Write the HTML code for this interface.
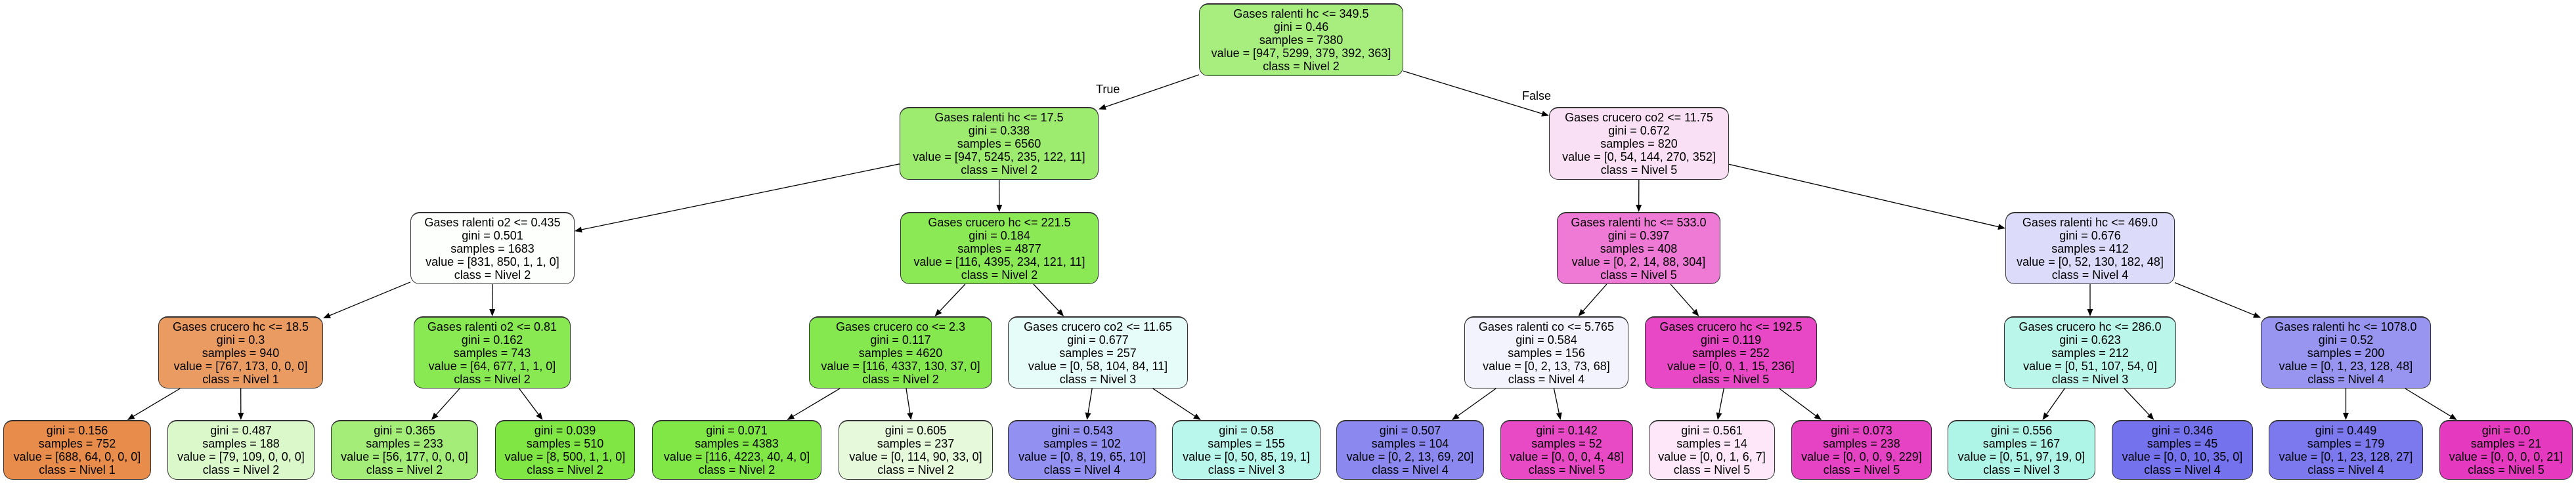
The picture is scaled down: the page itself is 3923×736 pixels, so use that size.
<!DOCTYPE html>
<html><head><meta charset="utf-8">
<style>
html,body{margin:0;padding:0;background:#fff;}
body{width:3923px;height:736px;position:relative;overflow:hidden;font-family:"Liberation Sans",Arial,sans-serif;}
.n{position:absolute;box-sizing:border-box;border:1.5px solid #333;border-top-width:2.5px;border-radius:14px;display:flex;align-items:center;justify-content:center;text-align:center;font-size:18px;line-height:20px;color:#000;white-space:nowrap;}
.lbl{position:absolute;font-size:18px;line-height:20px;}
svg{position:absolute;left:0;top:0;}
</style></head><body>
<svg id="s" width="3923" height="736"></svg>

<div class="n" id="R" style="left:1826px;top:5px;width:311px;height:111px;background:#a8ee7f">Gases ralenti hc &lt;= 349.5<br>gini = 0.46<br>samples = 7380<br>value = [947, 5299, 379, 392, 363]<br>class = Nivel 2</div>

<div class="lbl" style="left:1669px;top:126px">True</div>
<div class="lbl" style="left:2318px;top:136px">False</div>

<div class="n" id="A" style="left:1370px;top:163px;width:303px;height:111px;background:#9eec6f">Gases ralenti hc &lt;= 17.5<br>gini = 0.338<br>samples = 6560<br>value = [947, 5245, 235, 122, 11]<br>class = Nivel 2</div>
<div class="n" id="B" style="left:2359px;top:163px;width:274px;height:111px;background:#fae0f5">Gases crucero co2 &lt;= 11.75<br>gini = 0.672<br>samples = 820<br>value = [0, 54, 144, 270, 352]<br>class = Nivel 5</div>

<div class="n" id="C" style="left:625px;top:323px;width:250px;height:110px;background:#fdfffc">Gases ralenti o2 &lt;= 0.435<br>gini = 0.501<br>samples = 1683<br>value = [831, 850, 1, 1, 0]<br>class = Nivel 2</div>
<div class="n" id="D" style="left:1371px;top:323px;width:302px;height:110px;background:#8ae954">Gases crucero hc &lt;= 221.5<br>gini = 0.184<br>samples = 4877<br>value = [116, 4395, 234, 121, 11]<br>class = Nivel 2</div>
<div class="n" id="E" style="left:2371px;top:323px;width:249px;height:110px;background:#ee7ad5">Gases ralenti hc &lt;= 533.0<br>gini = 0.397<br>samples = 408<br>value = [0, 2, 14, 88, 304]<br>class = Nivel 5</div>
<div class="n" id="F" style="left:3054px;top:323px;width:258px;height:110px;background:#dcdbfa">Gases ralenti hc &lt;= 469.0<br>gini = 0.676<br>samples = 412<br>value = [0, 52, 130, 182, 48]<br>class = Nivel 4</div>

<div class="n" id="G" style="left:241px;top:482px;width:251px;height:110px;background:#ea9b62">Gases crucero hc &lt;= 18.5<br>gini = 0.3<br>samples = 940<br>value = [767, 173, 0, 0, 0]<br>class = Nivel 1</div>
<div class="n" id="H" style="left:630px;top:482px;width:239px;height:110px;background:#89e953">Gases ralenti o2 &lt;= 0.81<br>gini = 0.162<br>samples = 743<br>value = [64, 677, 1, 1, 0]<br>class = Nivel 2</div>
<div class="n" id="I" style="left:1232px;top:482px;width:279px;height:110px;background:#86e84f">Gases crucero co &lt;= 2.3<br>gini = 0.117<br>samples = 4620<br>value = [116, 4337, 130, 37, 0]<br>class = Nivel 2</div>
<div class="n" id="J" style="left:1535px;top:482px;width:274px;height:110px;background:#e6fcf8">Gases crucero co2 &lt;= 11.65<br>gini = 0.677<br>samples = 257<br>value = [0, 58, 104, 84, 11]<br>class = Nivel 3</div>
<div class="n" id="K" style="left:2230px;top:482px;width:250px;height:110px;background:#f3f3fd">Gases ralenti co &lt;= 5.765<br>gini = 0.584<br>samples = 156<br>value = [0, 2, 13, 73, 68]<br>class = Nivel 4</div>
<div class="n" id="L" style="left:2505px;top:482px;width:262px;height:110px;background:#e848c5">Gases crucero hc &lt;= 192.5<br>gini = 0.119<br>samples = 252<br>value = [0, 0, 1, 15, 236]<br>class = Nivel 5</div>
<div class="n" id="M" style="left:3052px;top:482px;width:262px;height:110px;background:#bbf6eb">Gases crucero hc &lt;= 286.0<br>gini = 0.623<br>samples = 212<br>value = [0, 51, 107, 54, 0]<br>class = Nivel 3</div>
<div class="n" id="N" style="left:3443px;top:482px;width:259px;height:110px;background:#9795f0">Gases ralenti hc &lt;= 1078.0<br>gini = 0.52<br>samples = 200<br>value = [0, 1, 23, 128, 48]<br>class = Nivel 4</div>

<div class="n" id="l1" style="left:5px;top:640px;width:225px;height:91px;background:#e78c4a">gini = 0.156<br>samples = 752<br>value = [688, 64, 0, 0, 0]<br>class = Nivel 1</div>
<div class="n" id="l2" style="left:255px;top:640px;width:224px;height:91px;background:#dbf8ca">gini = 0.487<br>samples = 188<br>value = [79, 109, 0, 0, 0]<br>class = Nivel 2</div>
<div class="n" id="l3" style="left:504px;top:640px;width:224px;height:91px;background:#a4ed78">gini = 0.365<br>samples = 233<br>value = [56, 177, 0, 0, 0]<br>class = Nivel 2</div>
<div class="n" id="l4" style="left:754px;top:640px;width:213px;height:91px;background:#7fe643">gini = 0.039<br>samples = 510<br>value = [8, 500, 1, 1, 0]<br>class = Nivel 2</div>
<div class="n" id="l5" style="left:993px;top:640px;width:258px;height:91px;background:#80e746">gini = 0.071<br>samples = 4383<br>value = [116, 4223, 40, 4, 0]<br>class = Nivel 2</div>
<div class="n" id="l6" style="left:1277px;top:640px;width:235px;height:91px;background:#e6f9da">gini = 0.605<br>samples = 237<br>value = [0, 114, 90, 33, 0]<br>class = Nivel 2</div>
<div class="n" id="l7" style="left:1535px;top:640px;width:226px;height:91px;background:#9290f0">gini = 0.543<br>samples = 102<br>value = [0, 8, 19, 65, 10]<br>class = Nivel 4</div>
<div class="n" id="l8" style="left:1785px;top:640px;width:226px;height:91px;background:#b9f6eb">gini = 0.58<br>samples = 155<br>value = [0, 50, 85, 19, 1]<br>class = Nivel 3</div>
<div class="n" id="l9" style="left:2035px;top:640px;width:225px;height:91px;background:#8b89ef">gini = 0.507<br>samples = 104<br>value = [0, 2, 13, 69, 20]<br>class = Nivel 4</div>
<div class="n" id="l10" style="left:2285px;top:640px;width:202px;height:91px;background:#e84ac6">gini = 0.142<br>samples = 52<br>value = [0, 0, 0, 4, 48]<br>class = Nivel 5</div>
<div class="n" id="l11" style="left:2511px;top:640px;width:192px;height:91px;background:#fde7f8">gini = 0.561<br>samples = 14<br>value = [0, 0, 1, 6, 7]<br>class = Nivel 5</div>
<div class="n" id="l12" style="left:2728px;top:640px;width:214px;height:91px;background:#e643c4">gini = 0.073<br>samples = 238<br>value = [0, 0, 0, 9, 229]<br>class = Nivel 5</div>
<div class="n" id="l13" style="left:2966px;top:640px;width:225px;height:91px;background:#aef4e7">gini = 0.556<br>samples = 167<br>value = [0, 51, 97, 19, 0]<br>class = Nivel 3</div>
<div class="n" id="l14" style="left:3216px;top:640px;width:215px;height:91px;background:#7472ec">gini = 0.346<br>samples = 45<br>value = [0, 0, 10, 35, 0]<br>class = Nivel 4</div>
<div class="n" id="l15" style="left:3455px;top:640px;width:235px;height:91px;background:#7b79ed">gini = 0.449<br>samples = 179<br>value = [0, 1, 23, 128, 27]<br>class = Nivel 4</div>
<div class="n" id="l16" style="left:3715px;top:640px;width:203px;height:91px;background:#e539c0">gini = 0.0<br>samples = 21<br>value = [0, 0, 0, 0, 21]<br>class = Nivel 5</div>

<script>
(function(){
var E=[["R","A"],["R","B"],["A","C"],["A","D"],["B","E"],["B","F"],["C","G"],["C","H"],["D","I"],["D","J"],["E","K"],["E","L"],["F","M"],["F","N"],
["G","l1"],["G","l2"],["H","l3"],["H","l4"],["I","l5"],["I","l6"],["J","l7"],["J","l8"],["K","l9"],["K","l10"],["L","l11"],["L","l12"],["M","l13"],["M","l14"],["N","l15"],["N","l16"]];
var s=document.getElementById("s"),h="";
function box(id){var e=document.getElementById(id);return {x:e.offsetLeft,y:e.offsetTop,w:e.offsetWidth,h:e.offsetHeight};}
function clip(b,dx,dy){ // from center along (dx,dy) to boundary, returns t
 var hw=b.w/2,hh=b.h/2,t=1e9;
 if(dx!==0)t=Math.min(t,hw/Math.abs(dx));
 if(dy!==0)t=Math.min(t,hh/Math.abs(dy));
 return t;}
E.forEach(function(p){
 var a=box(p[0]),b=box(p[1]);
 var ax=a.x+a.w/2,ay=a.y+a.h/2,bx=b.x+b.w/2,by=b.y+b.h/2;
 var dx=bx-ax,dy=by-ay;
 var t1=clip(a,dx,dy),t2=clip(b,-dx,-dy);
 var sx=ax+dx*t1,sy=ay+dy*t1,ex=bx-dx*t2,ey=by-dy*t2;
 var L=Math.sqrt((ex-sx)*(ex-sx)+(ey-sy)*(ey-sy)),ux=(ex-sx)/L,uy=(ey-sy)/L;
 var al=11,aw=4.5;
 var bx2=ex-ux*al,by2=ey-uy*al;
 h+='<line x1="'+sx+'" y1="'+sy+'" x2="'+bx2+'" y2="'+by2+'" stroke="#000" stroke-width="1.3"/>';
 h+='<polygon points="'+ex+','+ey+' '+(bx2-uy*aw)+','+(by2+ux*aw)+' '+(bx2+uy*aw)+','+(by2-ux*aw)+'" fill="#000"/>';
});
s.innerHTML=h;
})();
</script>
</body></html>
